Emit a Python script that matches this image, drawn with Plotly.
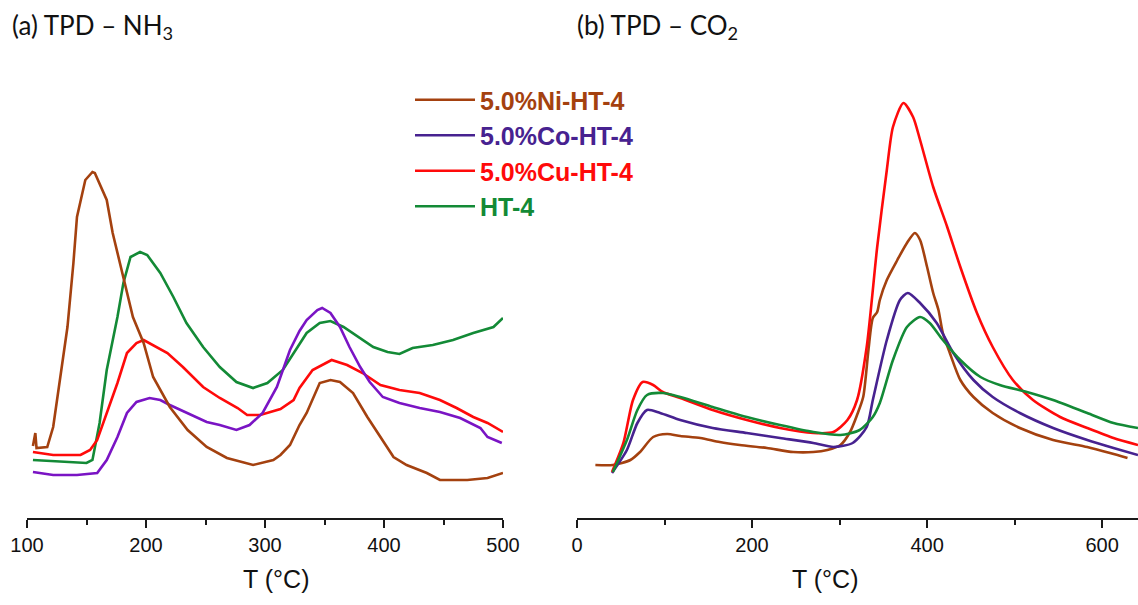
import plotly.graph_objects as go

# ---------------- (a) TPD - NH3 ----------------
a_ni_T = [105,107,108,117,122,128,134,139,142,149,155,157,167,172,178,189,198,206,220,235,251,268,290,307,313,321,329,335,346,355,363,374,386,397,408,419,436,447,470,487,500]
a_ni_I = [72,85,70,71,91,141,191,255,301,338,346,345,318,285,255,201,175,141,111,88,71,60,53,58,63,73,93,105,135,138,136,125,101,81,61,53,45,38,38,40,45]

a_ht_T = [105,150,155,161,167,176,181,187,195,201,212,223,234,248,262,276,290,302,315,327,335,346,355,366,380,391,403,413,424,441,458,475,492,500]
a_ht_I = [58,55,58,95,148,201,235,261,266,263,245,221,195,171,151,136,130,135,148,171,185,195,197,191,180,171,166,164,170,173,178,185,191,200]

a_cu_T = [105,122,145,153,159,167,176,184,192,198,206,218,231,248,262,277,285,296,313,324,329,340,356,369,382,397,413,430,447,461,475,487,500]
a_cu_I = [66,63,63,68,78,105,135,165,175,178,173,165,151,131,120,110,103,103,109,118,130,148,158,153,145,133,128,125,118,110,101,95,86]

a_co_T = [105,122,142,159,167,176,184,192,203,212,220,234,251,262,276,287,298,310,321,329,335,344,348,355,363,371,380,388,399,413,430,447,464,481,487,499]
a_co_I = [46,43,43,45,58,81,105,116,120,118,113,105,96,93,88,93,105,131,168,187,198,208,210,205,191,171,151,136,121,115,110,106,100,90,81,75]

# ---------------- (b) TPD - CO2 ----------------
b_ni_T = [21,41,61,72,87,103,118,141,163,186,217,247,270,286,301,312,320,327,333,338,343,346,354,366,377,386,392,400,407,413,418,426,438,453,475,506,544,583,609,629]
b_ni_I = [53,53,58,66,81,84,82,80,76,73,70,66,66,68,73,86,103,121,168,200,206,218,238,258,275,285,278,251,225,208,185,165,138,121,105,90,78,71,65,60]

b_cu_T = [40,53,64,75,87,98,118,155,194,232,270,293,309,320,331,343,354,361,373,384,392,407,423,438,457,475,498,521,552,583,613,641]
b_cu_I = [46,75,118,136,133,126,120,108,98,90,85,86,98,118,171,271,348,391,415,401,378,331,291,251,205,171,138,118,101,90,80,73]

b_ht_T = [41,57,69,80,98,118,155,194,232,270,301,323,338,346,361,377,392,403,418,438,461,483,514,544,583,613,641]
b_ht_I = [46,78,108,123,125,121,111,101,93,86,83,88,101,115,158,191,201,195,178,158,141,133,126,118,105,95,90]

b_co_T = [40,57,69,80,95,118,155,194,232,270,293,315,331,338,354,369,378,392,411,430,453,475,506,544,583,613,641]
b_co_I = [45,68,95,108,105,98,90,85,80,75,71,75,91,118,178,218,225,215,195,165,138,121,105,90,78,70,63]

labels = ["5.0%Ni-HT-4", "5.0%Co-HT-4", "5.0%Cu-HT-4", "HT-4"]
a_ticks = [100, 200, 300, 400, 500]
b_ticks = [0, 200, 400, 600]

c_ni = "#A4410F"
c_co_a = "#7A14C4"
c_co_b = "#472290"
c_cu = "#FF0A0A"
c_ht = "#138A36"

W, H = 1138, 605
LW = 2.6


def lbl(txt, col):
    return f"<span style='color:{col}'><b>{txt}</b></span>"


fig = go.Figure()

# panel a
for T, I, col in [(a_ht_T, a_ht_I, c_ht), (a_cu_T, a_cu_I, c_cu), (a_co_T, a_co_I, c_co_a), (a_ni_T, a_ni_I, c_ni)]:
    fig.add_trace(go.Scatter(x=T, y=I, mode="lines", line=dict(color=col, width=LW),
                             xaxis="x", yaxis="y", showlegend=False, hoverinfo="skip"))

# panel b (carries the legend)
for k, (T, I, col) in enumerate([(b_ni_T, b_ni_I, c_ni), (b_co_T, b_co_I, c_co_b),
                                 (b_cu_T, b_cu_I, c_cu), (b_ht_T, b_ht_I, c_ht)]):
    fig.add_trace(go.Scatter(x=T, y=I, mode="lines",
                             line=dict(color=col, width=LW, shape="spline", smoothing=0.7),
                             xaxis="x2", yaxis="y2", name=lbl(labels[k], col), legendrank=k + 1,
                             hoverinfo="skip"))

y_bot = (H - 518) / H
y_top = (H - 48) / H

xcommon = dict(showline=True, linecolor="#1a1a1a", linewidth=2, ticks="outside", ticklen=8, tickwidth=2,
               tickcolor="#1a1a1a", showgrid=False, zeroline=False, automargin=False,
               tickfont=dict(family="Liberation Sans, Arial, sans-serif", size=20, color="#111"),
               minor=dict(ticks="outside", ticklen=5, tickwidth=2, tickcolor="#1a1a1a", showgrid=False))

fig.update_layout(
    width=W, height=H,
    margin=dict(l=0, r=0, t=0, b=0, autoexpand=False),
    paper_bgcolor="white", plot_bgcolor="white",
    xaxis=dict(domain=[27 / W, 503 / W], range=[100, 500], anchor="y", tickvals=a_ticks,
               minor_dtick=50, **xcommon),
    yaxis=dict(domain=[y_bot, y_top], range=[0, 470], visible=False),
    xaxis2=dict(domain=[577 / W, 1.0], range=[0, 641], anchor="y2", tickvals=b_ticks,
                minor_dtick=100, **xcommon),
    yaxis2=dict(domain=[y_bot, y_top], range=[0, 470], visible=False),
    legend=dict(x=410 / W, y=(H - 77) / H, xanchor="left", yanchor="top", bgcolor="rgba(0,0,0,0)",
                font=dict(family="Liberation Sans, Arial, sans-serif", size=25), itemwidth=60,
                traceorder="normal"),
    showlegend=True,
)

for txt, xl in [("(a) TPD – NH<sub>3</sub>", 10), ("(b) TPD – CO<sub>2</sub>", 575)]:
    fig.add_annotation(xref="paper", yref="paper", x=xl / W, y=(H - 26) / H, xanchor="left", yanchor="middle",
                       showarrow=False, text=txt,
                       font=dict(family="Lato, Open Sans, sans-serif", size=26, color="#111"))

for xc in [276, 825]:
    fig.add_annotation(xref="paper", yref="paper", x=xc / W, y=(H - 579) / H, xanchor="center", yanchor="middle",
                       showarrow=False, text="T (°C)",
                       font=dict(family="Liberation Sans, Arial, sans-serif", size=25, color="#111"))

fig.write_html("out.html")
